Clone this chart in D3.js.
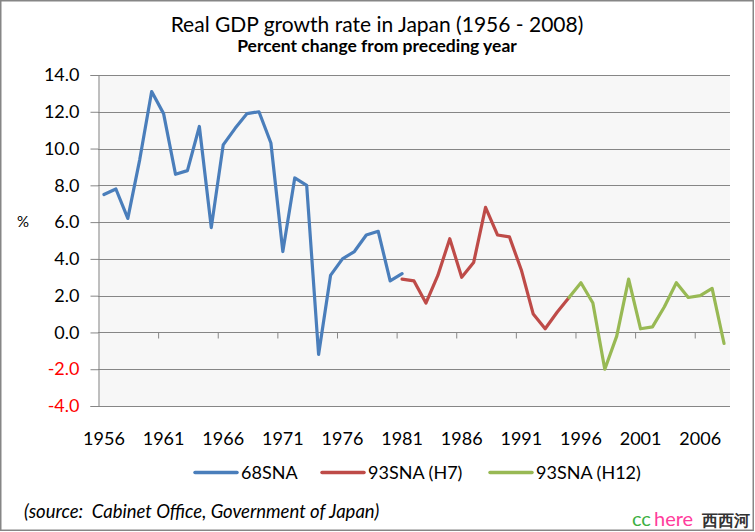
<!DOCTYPE html>
<html>
<head>
<meta charset="utf-8">
<script src="https://cdn.jsdelivr.net/npm/d3@7"></script>
<style>
  html, body { margin: 0; padding: 0; background: #fff; }
  svg { display: block; }
  text { font-family: Lato, "Open Sans", sans-serif; white-space: pre; }
</style>
</head>
<body>
<svg id="chart" width="755" height="532"></svg>
<script>
// ---------------- data ----------------
const years = [1956,1957,1958,1959,1960,1961,1962,1963,1964,1965,1966,1967,1968,1969,1970,
  1971,1972,1973,1974,1975,1976,1977,1978,1979,1980,1981,1982,1983,1984,1985,1986,1987,1988,
  1989,1990,1991,1992,1993,1994,1995,1996,1997,1998,1999,2000,2001,2002,2003,2004,2005,2006,2007,2008];

const sna68Years = [1956,1957,1958,1959,1960,1961,1962,1963,1964,1965,1966,1967,1968,1969,1970,
  1971,1972,1973,1974,1975,1976,1977,1978,1979,1980,1981];
const sna68Values = [7.5,7.8,6.2,9.4,13.1,11.9,8.6,8.8,11.2,5.7,10.2,11.1,11.9,12.0,10.3,
  4.4,8.4,8.0,-1.2,3.1,4.0,4.4,5.3,5.5,2.8,3.2];

const h7Years = [1981,1982,1983,1984,1985,1986,1987,1988,1989,1990,1991,1992,1993,1994,1995];
const h7Values = [2.9,2.8,1.6,3.1,5.1,3.0,3.8,6.8,5.3,5.2,3.4,1.0,0.2,1.1,1.9];

const h12Years = [1995,1996,1997,1998,1999,2000,2001,2002,2003,2004,2005,2006,2007,2008];
const h12Values = [1.9,2.7,1.6,-2.0,-0.2,2.9,0.2,0.3,1.4,2.7,1.9,2.0,2.4,-0.6];

const seriesNames = ["68SNA", "93SNA (H7)", "93SNA (H12)"];
const seriesColors = ["#4a7ebb", "#be4b48", "#98b954"];

const yTicks = [-4,-2,0,2,4,6,8,10,12,14];
const xLabelYears = [1956,1961,1966,1971,1976,1981,1986,1991,1996,2001,2006];
const xTickIdx = [5,10,15,20,25,30,35,40,45,50];

const titleText = "Real GDP growth rate in Japan (1956 - 2008)";
const subtitleText = "Percent change from preceding year";
const sourceText = "(source:  Cabinet Office, Government of Japan)";

// ---------------- layout ----------------
const svg = d3.select("#chart");
const L = 98, R = 730, T = 75, B = 406;
const gridColor = "#868686";

// outer border
svg.append("rect").attr("x", 0.75).attr("y", 0.75).attr("width", 752.5).attr("height", 529.5)
  .attr("fill", "#fff").attr("stroke", gridColor).attr("stroke-width", 1.5);

const x = d3.scaleBand().domain(years).range([L, R]).padding(0);
const xIdx = d3.scaleLinear().domain([0, years.length]).range([L, R]);
const y = d3.scaleLinear().domain([-4, 14]).range([B, T]);
const cx = d => x(d) + x.bandwidth() / 2;

// plot background
svg.append("rect").attr("x", L).attr("y", T).attr("width", R - L).attr("height", B - T)
  .attr("fill", "#f7f7f7");

// gridlines
svg.append("g").selectAll("line").data(yTicks).join("line")
  .attr("x1", L).attr("x2", R)
  .attr("y1", d => Math.round(y(d)) + 0.5).attr("y2", d => Math.round(y(d)) + 0.5)
  .attr("stroke", gridColor).attr("stroke-width", 1);

// y axis
const yAxis = d3.axisLeft(y).tickValues(yTicks).tickSize(8).tickPadding(11)
  .tickFormat(d => d.toFixed(1));
const gy = svg.append("g").attr("transform", `translate(${L + 0.5},0)`).call(yAxis);
gy.select(".domain").attr("stroke", gridColor);
gy.selectAll(".tick line").attr("stroke", gridColor);
gy.selectAll(".tick text")
  .attr("font-family", "Lato, sans-serif").attr("font-size", 18)
  .attr("fill", d => d < 0 ? "#ff0000" : "#000");

// x axis tick marks at category boundaries along zero line
const xTickAxis = d3.axisBottom(xIdx).tickValues(xTickIdx).tickSize(6).tickFormat("");
const gxt = svg.append("g").attr("transform", `translate(0.5,${Math.round(y(0)) + 0.5})`).call(xTickAxis);
gxt.select(".domain").remove();
gxt.selectAll(".tick line").attr("stroke", gridColor);

// x labels at bottom
const xLabAxis = d3.axisBottom(x).tickValues(xLabelYears).tickSize(0).tickPadding(0);
const gxl = svg.append("g").attr("transform", `translate(0,${445})`).call(xLabAxis);
gxl.select(".domain").remove();
gxl.selectAll(".tick text").attr("dy", 0).attr("y", 0)
  .attr("font-family", "Lato, sans-serif").attr("font-size", 18).attr("fill", "#000");

// % label
svg.append("text").attr("x", 23).attr("y", 227).attr("text-anchor", "middle")
  .attr("font-size", 15).text("%");

// series lines
const series = [
  {years: sna68Years, values: sna68Values},
  {years: h7Years, values: h7Values},
  {years: h12Years, values: h12Values}
];
const line = d3.line().x(d => cx(d[0])).y(d => y(d[1]));
series.forEach((s, i) => {
  svg.append("path")
    .datum(s.years.map((yr, j) => [yr, s.values[j]]))
    .attr("d", line)
    .attr("fill", "none")
    .attr("stroke", seriesColors[i])
    .attr("stroke-width", 3.2)
    .attr("stroke-linejoin", "round")
    .attr("stroke-linecap", "round");
});

// title
svg.append("text").attr("x", 377).attr("y", 32).attr("text-anchor", "middle")
  .attr("font-size", 21).attr("fill", "#000").text(titleText);
svg.append("text").attr("x", 377).attr("y", 52).attr("text-anchor", "middle")
  .attr("font-size", 17.5).attr("font-weight", "bold").attr("fill", "#000").text(subtitleText);

// legend
const legendX = [195, 322, 490];
const lg = svg.append("g");
seriesNames.forEach((name, i) => {
  lg.append("line").attr("x1", legendX[i]).attr("x2", legendX[i] + 42)
    .attr("y1", 472.5).attr("y2", 472.5)
    .attr("stroke", seriesColors[i]).attr("stroke-width", 3.5).attr("stroke-linecap", "round");
  lg.append("text").attr("x", legendX[i] + 46).attr("y", 479)
    .attr("font-size", 18).attr("fill", "#000").text(name);
});

// source
svg.append("text").attr("x", 24).attr("y", 518).attr("font-size", 18.5)
  .attr("font-style", "italic").attr("fill", "#000").text(sourceText);

// watermark
svg.append("text").attr("x", 632).attr("y", 526).attr("font-size", 20)
  .attr("fill", "#3cb043").text("cc");
svg.append("text").attr("x", 654).attr("y", 526).attr("font-size", 20)
  .attr("fill", "#ff3c9c").text("here");
svg.append("text").attr("x", 702).attr("y", 526)
  .attr("font-family", "'Noto Sans CJK SC', sans-serif")
  .attr("font-weight", "bold").attr("font-size", 16).attr("fill", "#333").text("西西河");
</script>
</body>
</html>
